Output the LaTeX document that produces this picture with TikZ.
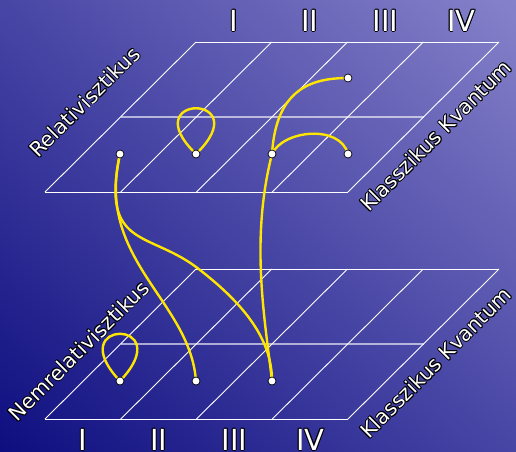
\documentclass[tikz,border=0pt]{standalone}
\usepackage{fontspec}
\setmainfont{DejaVu Sans}
\usepackage{contour}
\contourlength{0.9pt}
\contournumber{8}
\usetikzlibrary{shadings}
\definecolor{bgdark}{RGB}{14,14,128}
\definecolor{bgmid}{RGB}{72,70,165}
\definecolor{bglight}{RGB}{134,130,202}
\definecolor{lineyellow}{RGB}{255,230,0}
\tikzset{
  plane/.style={draw=white, line width=0.9pt},
  midline/.style={draw=white, line width=1.1pt, opacity=0.6},
  worldline/.style={draw=lineyellow, line width=2.4pt},
  dot/.style={circle, draw=black, fill=white, line width=0.7pt, minimum size=8pt, inner sep=0pt},
  planelabel/.style={text=white, rotate=45, font=\fontsize{20.5}{24}\selectfont, inner sep=0pt},
  numeral/.style={text=white, font=\fontsize{29}{34}\selectfont, inner sep=0pt}
}

\begin{document}
\begin{tikzpicture}[x=1pt, y=-1pt]
\useasboundingbox (0,0) rectangle (516,451);
\shade[lower left=bgdark, upper right=bglight, upper left=bgmid, lower right=bgmid] (0,0) rectangle (516,451);

% the two planes
\foreach \y in {192,419} {
  \draw[plane] (45,\y) -- (348,\y);
  \draw[plane] (196,\y-150) -- (499,\y-150);
  \draw[midline] (120.5,\y-75) -- (423.5,\y-75);
  \foreach \i in {0,...,4}
    \draw[plane] (45+75.75*\i,\y) -- (196+75.75*\i,\y-150);
}

% events
\coordinate (r1) at (120,154);
\coordinate (r2) at (196,154);
\coordinate (r3) at (272,154);
\coordinate (r4) at (348,154);
\coordinate (r3b) at (348,78);
\coordinate (n1) at (120,381);
\coordinate (n2) at (196,381);
\coordinate (n3) at (272,381);

% yellow lines
\draw[worldline] (r2) .. controls +(-63,-61) and +(63,-61) .. (r2);
\draw[worldline] (n1) .. controls +(-60,-63) and +(60,-63) .. (n1);
\draw[worldline] (r3) .. controls (276,90) and (310,78) .. (r3b);
\draw[worldline] (r3) .. controls (283,130) and (340,124) .. (r4);
\draw[worldline] (r3) .. controls (250,240) and (265,320) .. (n3);
\draw[worldline] (r1) .. controls (95,260) and (190,300) .. (n2);
\draw[worldline] (r1) .. controls (100,250) and (150,230) .. (200,270)
  .. controls (245,305) and (272,340) .. (n3);

\foreach \p in {r1,r2,r3,r4,r3b,n1,n2,n3}
  \node[dot] at (\p) {};

% labels
\node[planelabel] (rel) at (85,102) {\contour{black}{Relativisztikus}};
\node[planelabel] (klassz1) at (436,136) {\contour{black}{Klasszikus Kvantum}};
\node[planelabel] (nemrel) at (79,351) {\contour{black}{Nemrelativisztikus}};
\node[planelabel] (klassz2) at (436,363) {\contour{black}{Klasszikus Kvantum}};

\foreach \n [count=\i from 0] in {I,II,III,IV} {
  \node[numeral] (top\n) at (234+75.75*\i,21) {\contour{black}{\n}};
  \node[numeral] (bot\n) at (83+75.75*\i,440) {\contour{black}{\n}};
}
\end{tikzpicture}
\end{document}
